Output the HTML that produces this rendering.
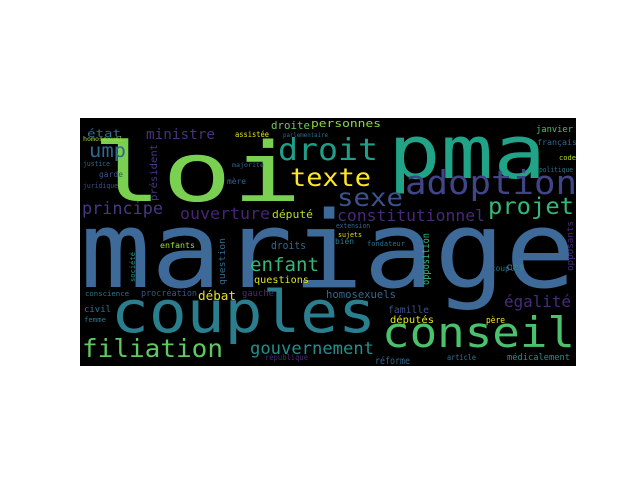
<!DOCTYPE html>
<html><head><meta charset="utf-8">
<style>
html,body{margin:0;padding:0;background:#fff;width:640px;height:480px;overflow:hidden}
svg text{font-family:"DejaVu Sans Mono","Liberation Mono",monospace}
</style></head>
<body>
<svg width="640" height="480" viewBox="0 0 640 480">
<svg x="80" y="118" width="496" height="248" viewBox="80 118 496 248" overflow="hidden">
<rect x="80" y="118" width="496" height="248" fill="#000"/>
<text x="80" y="287" font-size="106" fill="#3e6a9a" textLength="496" lengthAdjust="spacingAndGlyphs">mariage</text>
<text x="92" y="201" font-size="82" fill="#7ad151" textLength="210" lengthAdjust="spacingAndGlyphs">loi</text>
<text x="388" y="178" font-size="74" fill="#20a386" textLength="158" lengthAdjust="spacingAndGlyphs">pma</text>
<text x="111" y="332" font-size="58" fill="#2a7f8e" textLength="265" lengthAdjust="spacingAndGlyphs">couples</text>
<text x="382" y="347" font-size="42" fill="#4ac16d" textLength="193" lengthAdjust="spacingAndGlyphs">conseil</text>
<text x="82" y="357" font-size="25" fill="#5ec962" textLength="141" lengthAdjust="spacingAndGlyphs">filiation</text>
<text x="278" y="160" font-size="30" fill="#1f9e89" textLength="100" lengthAdjust="spacingAndGlyphs">droit</text>
<text x="290" y="186" font-size="25" fill="#fde725" textLength="81" lengthAdjust="spacingAndGlyphs">texte</text>
<text x="405" y="194" font-size="33" fill="#414487" textLength="172" lengthAdjust="spacingAndGlyphs">adoption</text>
<text x="337" y="206" font-size="25" fill="#3b528b" textLength="66" lengthAdjust="spacingAndGlyphs">sexe</text>
<text x="337" y="221" font-size="16" fill="#482878" textLength="148" lengthAdjust="spacingAndGlyphs">constitutionnel</text>
<text x="488" y="214" font-size="23" fill="#35b779" textLength="86" lengthAdjust="spacingAndGlyphs">projet</text>
<text x="146" y="139" font-size="14" fill="#46327e" textLength="69" lengthAdjust="spacingAndGlyphs">ministre</text>
<text x="271" y="129" font-size="11" fill="#6ccd5a" textLength="39" lengthAdjust="spacingAndGlyphs">droite</text>
<text x="311" y="127" font-size="11" fill="#8fd744" textLength="70" lengthAdjust="spacingAndGlyphs">personnes</text>
<text x="89" y="157" font-size="19" fill="#31688e" textLength="37" lengthAdjust="spacingAndGlyphs">ump</text>
<text x="87" y="137" font-size="11" fill="#2e6e8e" textLength="34" lengthAdjust="spacingAndGlyphs">état</text>
<text x="82" y="214" font-size="17" fill="#443a83" textLength="81" lengthAdjust="spacingAndGlyphs">principe</text>
<text x="180" y="219" font-size="16" fill="#482475" textLength="90" lengthAdjust="spacingAndGlyphs">ouverture</text>
<text x="272" y="218" font-size="11" fill="#b5de2b" textLength="41" lengthAdjust="spacingAndGlyphs">député</text>
<text x="250" y="354" font-size="17" fill="#21918c" textLength="124" lengthAdjust="spacingAndGlyphs">gouvernement</text>
<text x="250" y="271" font-size="19" fill="#35b779" textLength="69" lengthAdjust="spacingAndGlyphs">enfant</text>
<text x="271" y="249" font-size="10.5" fill="#31688e" textLength="35" lengthAdjust="spacingAndGlyphs">droits</text>
<text x="504" y="307" font-size="16" fill="#472c7a" textLength="67" lengthAdjust="spacingAndGlyphs">égalité</text>
<text x="326" y="298" font-size="10.5" fill="#31688e" textLength="70" lengthAdjust="spacingAndGlyphs">homosexuels</text>
<text x="388" y="313" font-size="10" fill="#3b528b" textLength="41" lengthAdjust="spacingAndGlyphs">famille</text>
<text x="390" y="323" font-size="10" fill="#dfe318" textLength="44" lengthAdjust="spacingAndGlyphs">députés</text>
<text x="486" y="323" font-size="9" fill="#fde725" textLength="19" lengthAdjust="spacingAndGlyphs">père</text>
<text x="375" y="364" font-size="10" fill="#31688e" textLength="35" lengthAdjust="spacingAndGlyphs">réforme</text>
<text x="447" y="360" font-size="8" fill="#2a788e" textLength="29" lengthAdjust="spacingAndGlyphs">article</text>
<text x="507" y="360" font-size="8.5" fill="#21918c" textLength="63" lengthAdjust="spacingAndGlyphs">médicalement</text>
<text x="198" y="300" font-size="12" fill="#dfe318" textLength="38" lengthAdjust="spacingAndGlyphs">débat</text>
<text x="141" y="296" font-size="8.5" fill="#3b528b" textLength="56" lengthAdjust="spacingAndGlyphs">procréation</text>
<text x="84" y="312" font-size="9" fill="#2a788e" textLength="27" lengthAdjust="spacingAndGlyphs">civil</text>
<text x="254" y="283" font-size="10" fill="#dfe318" textLength="55" lengthAdjust="spacingAndGlyphs">questions</text>
<text x="160" y="248" font-size="8" fill="#a0da39" textLength="35" lengthAdjust="spacingAndGlyphs">enfants</text>
<text x="242" y="296" font-size="8.5" fill="#472c7a" textLength="32" lengthAdjust="spacingAndGlyphs">gauche</text>
<text x="235" y="137" font-size="8" fill="#dfe318" textLength="34" lengthAdjust="spacingAndGlyphs">assistée</text>
<text x="227" y="184" font-size="8" fill="#31688e" textLength="19" lengthAdjust="spacingAndGlyphs">mère</text>
<text x="99" y="177" font-size="8" fill="#3b528b" textLength="24" lengthAdjust="spacingAndGlyphs">garde</text>
<text x="506" y="270" font-size="9.5" fill="#21918c" textLength="19" lengthAdjust="spacingAndGlyphs">cas</text>
<text x="491" y="271" font-size="8" fill="#31688e" textLength="28" lengthAdjust="spacingAndGlyphs">couple</text>
<text x="536" y="132" font-size="8.5" fill="#4ac16d" textLength="37" lengthAdjust="spacingAndGlyphs">janvier</text>
<text x="537" y="145" font-size="8" fill="#31688e" textLength="40" lengthAdjust="spacingAndGlyphs">français</text>
<text x="559" y="160" font-size="7" fill="#b5de2b" textLength="17" lengthAdjust="spacingAndGlyphs">code</text>
<text x="539" y="172" font-size="7" fill="#2c728e" textLength="34" lengthAdjust="spacingAndGlyphs">politique</text>
<text x="83" y="166" font-size="7" fill="#31688e" textLength="27" lengthAdjust="spacingAndGlyphs">justice</text>
<text x="83" y="188" font-size="7" fill="#3b528b" textLength="35" lengthAdjust="spacingAndGlyphs">juridique</text>
<text x="83" y="141" font-size="6" fill="#a0da39" textLength="40" lengthAdjust="spacingAndGlyphs">homosexuel</text>
<text x="85" y="296" font-size="7" fill="#2a788e" textLength="44" lengthAdjust="spacingAndGlyphs">conscience</text>
<text x="84" y="322" font-size="7" fill="#2a788e" textLength="22" lengthAdjust="spacingAndGlyphs">femme</text>
<text x="367" y="246" font-size="7" fill="#2c728e" textLength="38" lengthAdjust="spacingAndGlyphs">fondateur</text>
<text x="335" y="244" font-size="8" fill="#2a788e" textLength="19" lengthAdjust="spacingAndGlyphs">bien</text>
<text x="336" y="228" font-size="7" fill="#31688e" textLength="34" lengthAdjust="spacingAndGlyphs">extension</text>
<text x="338" y="237" font-size="7" fill="#dfe318" textLength="24" lengthAdjust="spacingAndGlyphs">sujets</text>
<text x="283" y="137" font-size="6.5" fill="#2c728e" textLength="45" lengthAdjust="spacingAndGlyphs">parlementaire</text>
<text x="265" y="360" font-size="8" fill="#482878" textLength="43" lengthAdjust="spacingAndGlyphs">république</text>
<text x="232" y="167" font-size="6.5" fill="#31688e" textLength="32" lengthAdjust="spacingAndGlyphs">majorité</text>
<text x="0" y="0" font-size="10" fill="#443a83" transform="translate(157,201) rotate(-90)" textLength="57" lengthAdjust="spacingAndGlyphs">président</text>
<text x="0" y="0" font-size="10" fill="#35b779" transform="translate(429,285) rotate(-90)" textLength="52" lengthAdjust="spacingAndGlyphs">opposition</text>
<text x="0" y="0" font-size="9" fill="#472c7a" transform="translate(573,271) rotate(-90)" textLength="50" lengthAdjust="spacingAndGlyphs">opposants</text>
<text x="0" y="0" font-size="9" fill="#31688e" transform="translate(225,285) rotate(-90)" textLength="47" lengthAdjust="spacingAndGlyphs">question</text>
<text x="0" y="0" font-size="7" fill="#21918c" transform="translate(135,282) rotate(-90)" textLength="30" lengthAdjust="spacingAndGlyphs">société</text>
</svg>
</svg>
</body></html>
